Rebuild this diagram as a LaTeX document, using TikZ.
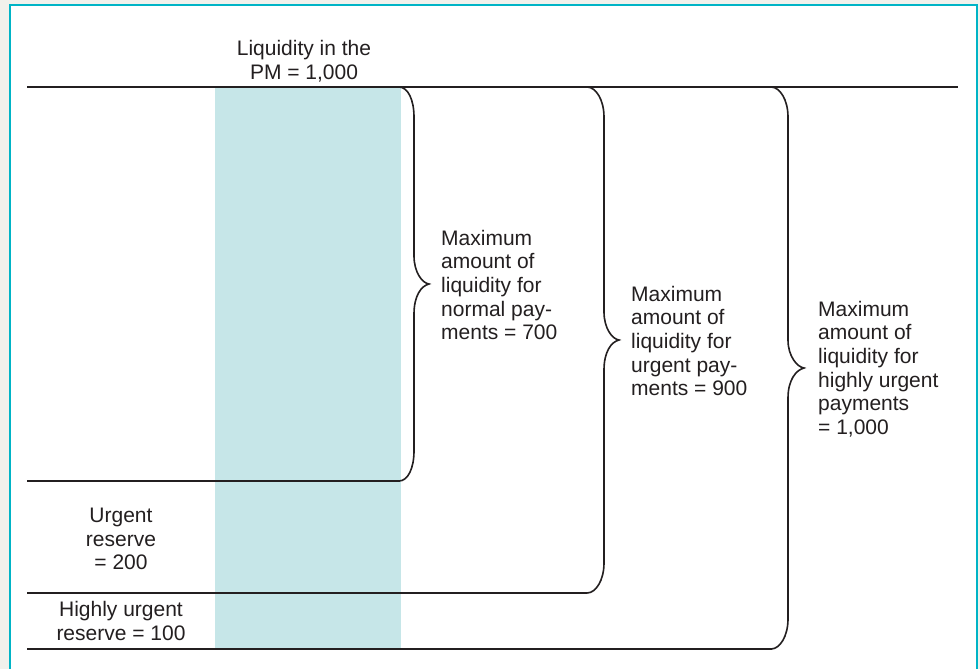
\documentclass[tikz,border=0pt]{standalone}
\usepackage{fontspec}
\setmainfont{Liberation Sans}
\definecolor{pagegrey}{HTML}{F1F1EC}
\definecolor{frameteal}{HTML}{00B4C6}
\definecolor{bandblue}{HTML}{C6E6E8}
\definecolor{ink}{HTML}{231F20}
\tikzset{
  rule/.style={draw=ink, line width=2pt},
  braceline/.style={draw=ink, line width=1.6pt},
  label/.style={inner sep=0pt, font=\fontsize{21}{23.6}\selectfont, text=ink},
}
% curly brace: left end x, stem x, tip x, top y, bottom y
\newcommand{\liqBrace}[5]{%
  \draw[braceline] (#1,#4) .. controls (#1+9,#4) and (#2,#4+13) .. (#2,#4+30)
    -- (#2,{(#4+#5)/2-28}) .. controls (#2,{(#4+#5)/2-12}) and (#3-7,{(#4+#5)/2-1}) .. (#3,{(#4+#5)/2})
    .. controls (#3-8,{(#4+#5)/2+2}) and (#2,{(#4+#5)/2+12}) .. (#2,{(#4+#5)/2+30})
    -- (#2,#5-30) .. controls (#2,#5-13) and (#1+9,#5) .. (#1,#5);}
\begin{document}
\begin{tikzpicture}[x=1pt,y=-1pt]
  \clip (0,0) rectangle (980,669);
  \fill[pagegrey] (0,0) rectangle (980,669);
  \draw[frameteal, line width=2.5pt, fill=white] (10,5) rectangle (977,680);

  % shaded liquidity column
  \fill[bandblue] (215,87) rectangle (401,649);

  % level lines
  \coordinate (topL) at (27,87);   \coordinate (topR) at (958,87);
  \coordinate (normL) at (27,481); \coordinate (normR) at (400,481);
  \coordinate (urgL) at (27,593);  \coordinate (urgR) at (587,593);
  \coordinate (hiL) at (27,649);   \coordinate (hiR) at (772,649);
  \draw[rule] (topL) -- (topR);
  \draw[rule] (normL) -- (normR);
  \draw[rule] (urgL) -- (urgR);
  \draw[rule] (hiL) -- (hiR);

  % braces
  \liqBrace{399}{414}{429}{87}{481}
  \liqBrace{587}{604}{619}{87}{593}
  \liqBrace{771}{788}{804}{87}{649}

  % labels
  \node[label, align=center] (pm) at (304,61) {Liquidity in the\\PM = 1,000};
  \node[label, align=center] (urgres) at (121,539) {Urgent\\reserve\\= 200};
  \node[label, align=center] (hires) at (121,621) {Highly urgent\\reserve = 100};
  \node[label, align=left, anchor=west] (normal) at (441,285) {Maximum\\amount of\\liquidity for\\normal pay-\\ments = 700};
  \node[label, align=left, anchor=west] (urgent) at (631,341) {Maximum\\amount of\\liquidity for\\urgent pay-\\ments = 900};
  \node[label, align=left, anchor=west] (highly) at (818,369) {Maximum\\amount of\\liquidity for\\highly urgent\\payments\\= 1,000};
\end{tikzpicture}
\end{document}
